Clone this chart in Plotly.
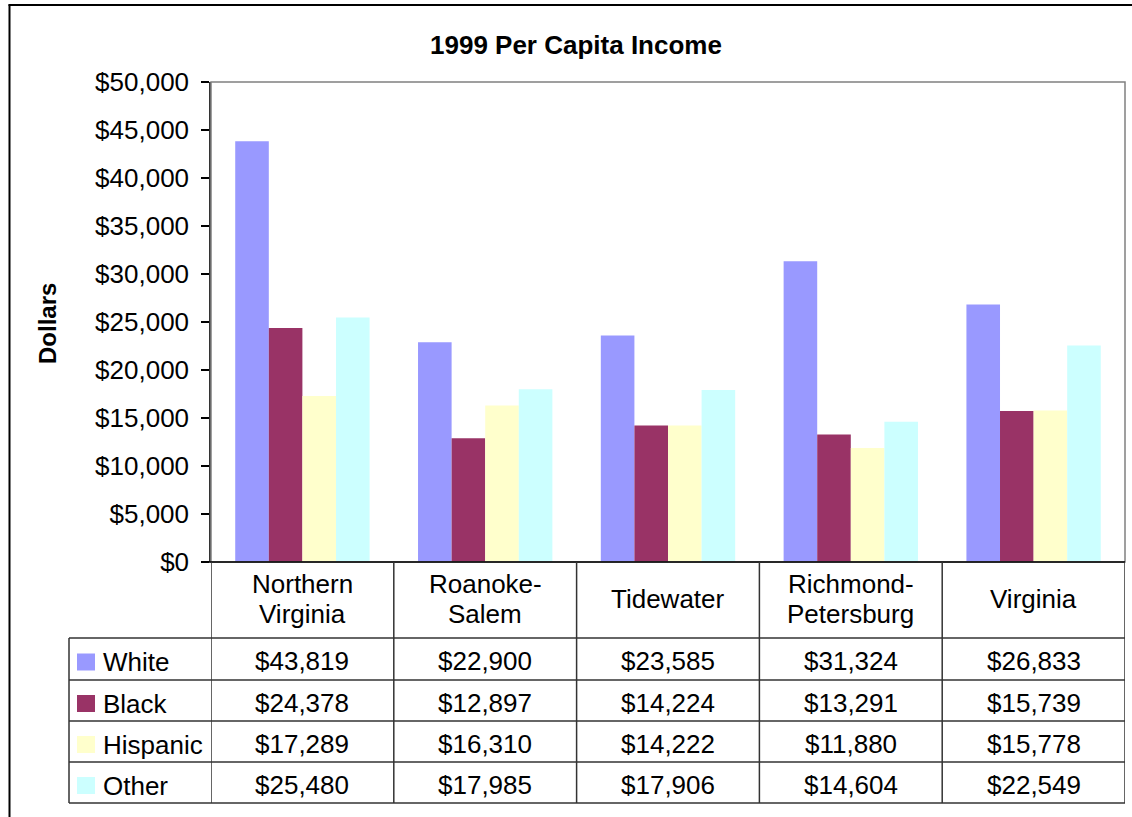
import plotly.graph_objects as go

# Regions (categories) and the per-capita income of each group
categories = ["Northern Virginia", "Roanoke-Salem", "Tidewater",
              "Richmond-Petersburg", "Virginia"]
header_lines = [["Northern", "Virginia"], ["Roanoke-", "Salem"], ["Tidewater"],
                ["Richmond-", "Petersburg"], ["Virginia"]]

white = [43819, 22900, 23585, 31324, 26833]
black = [24378, 12897, 14224, 13291, 15739]
hispanic = [17289, 16310, 14222, 11880, 15778]
other = [25480, 17985, 17906, 14604, 22549]

series_names = ["White", "Black", "Hispanic", "Other"]
series_values = [white, black, hispanic, other]
series_colors = ["#9999FF", "#993366", "#FFFFCC", "#CCFFFF"]

y_ticks = list(range(0, 50001, 5000))
y_tick_labels = [f"${v:,}" for v in y_ticks]

W, H = 1132, 817
FONT = "Arial, Liberation Sans, sans-serif"
FS = 26


def px(x):
    return x / W


def py(y):
    return 1 - y / H


# Plot-area and table geometry (pixels)
PL, PR, PT, PB = 211, 1125, 82, 562
LEG_L = 69
ROW_EDGES = [638, 680, 721, 762, 803]

fig = go.Figure()
for name, vals, col in zip(series_names, series_values, series_colors):
    fig.add_bar(x=categories, y=vals, name=name,
                marker=dict(color=col, line=dict(width=0)))

shapes = []
# Outer chart frame (left and top edges)
shapes.append(dict(type="line", xref="paper", yref="paper",
                   x0=px(9.5), x1=px(9.5), y0=py(4.5), y1=py(817),
                   line=dict(color="#000000", width=2)))
shapes.append(dict(type="line", xref="paper", yref="paper",
                   x0=px(8.5), x1=px(1132), y0=py(5), y1=py(5),
                   line=dict(color="#000000", width=2)))
# Plot-area border
shapes.append(dict(type="rect", xref="paper", yref="paper",
                   x0=px(PL), x1=px(PR), y0=py(PB), y1=py(PT),
                   line=dict(color="#808080", width=1.5), layer="above"))
# Data table: horizontal rules
shapes.append(dict(type="line", xref="paper", yref="paper",
                   x0=px(203), x1=px(PR), y0=py(PB), y1=py(PB),
                   line=dict(color="#000000", width=1.5), layer="above"))
for ry in ROW_EDGES:
    shapes.append(dict(type="line", xref="paper", yref="paper",
                       x0=px(LEG_L), x1=px(PR), y0=py(ry), y1=py(ry),
                       line=dict(color="#333333", width=1.5)))
# Data table: vertical rules at category boundaries
for i in range(len(categories) + 1):
    shapes.append(dict(type="line", xref="x", yref="paper",
                       x0=i - 0.5, x1=i - 0.5, y0=py(PB), y1=py(ROW_EDGES[-1]),
                       line=dict(color="#333333", width=1.5)))
shapes.append(dict(type="line", xref="paper", yref="paper",
                   x0=px(LEG_L), x1=px(LEG_L), y0=py(ROW_EDGES[0]), y1=py(ROW_EDGES[-1]),
                   line=dict(color="#333333", width=1.5)))

annotations = []
# Title and axis title
annotations.append(dict(text="<b>1999 Per Capita Income</b>", xref="paper", yref="paper",
                        x=px(576), y=py(45), showarrow=False,
                        font=dict(family=FONT, size=FS, color="#000000"),
                        xanchor="center", yanchor="middle"))
annotations.append(dict(text="<b>Dollars</b>", xref="paper", yref="paper",
                        x=px(47), y=py(323), showarrow=False, textangle=-90,
                        font=dict(family=FONT, size=24, color="#000000"),
                        xanchor="center", yanchor="middle"))

# Table header: category names
HEAD_MID = (PB + ROW_EDGES[0]) / 2 - 1
for i, lines in enumerate(header_lines):
    n = len(lines)
    for k, line in enumerate(lines):
        yc = HEAD_MID + (k - (n - 1) / 2) * 30
        annotations.append(dict(text=line, xref="x", yref="paper", x=i, y=py(yc),
                                showarrow=False, xanchor="center", yanchor="middle",
                                font=dict(family=FONT, size=FS, color="#000000")))

# Table body: legend keys and values
for r, (name, vals, col) in enumerate(zip(series_names, series_values, series_colors)):
    top, bot = ROW_EDGES[r], ROW_EDGES[r + 1]
    yc = (top + bot) / 2 + 3
    shapes.append(dict(type="rect", xref="paper", yref="paper",
                       x0=px(77), x1=px(95), y0=py(yc - 8.5), y1=py(yc + 8.5),
                       fillcolor=col, line=dict(width=0)))
    annotations.append(dict(text=name, xref="paper", yref="paper", x=px(101), y=py(yc),
                            showarrow=False, xanchor="left", yanchor="middle",
                            font=dict(family=FONT, size=FS, color="#000000")))
    for i, v in enumerate(vals):
        annotations.append(dict(text=f"${v:,}", xref="x", yref="paper", x=i, y=py(yc - 1),
                                showarrow=False, xanchor="center", yanchor="middle",
                                font=dict(family=FONT, size=FS, color="#000000")))

fig.update_layout(
    template="none",
    width=W, height=H,
    margin=dict(l=0, r=0, t=0, b=0, pad=0, autoexpand=False),
    paper_bgcolor="#FFFFFF", plot_bgcolor="#FFFFFF",
    barmode="group", bargap=0.265, bargroupgap=0,
    showlegend=False,
    font=dict(family=FONT, size=FS, color="#000000"),
    xaxis=dict(domain=[px(PL), px(PR)], range=[-0.5, len(categories) - 0.5],
               showticklabels=False, ticks="", showline=False, showgrid=False,
               zeroline=False, automargin=False),
    yaxis=dict(domain=[py(PB), py(PT)], range=[0, 50000],
               tickmode="array", tickvals=y_ticks, ticktext=y_tick_labels,
               ticks="outside", ticklen=8, tickwidth=1.5, tickcolor="#000000",
               ticklabelstandoff=7,
               showline=True, linecolor="#333333", linewidth=1.5,
               showgrid=False, zeroline=False, automargin=False,
               tickfont=dict(family=FONT, size=FS, color="#000000")),
    shapes=shapes,
    annotations=annotations,
)

fig.write_html("out.html")
